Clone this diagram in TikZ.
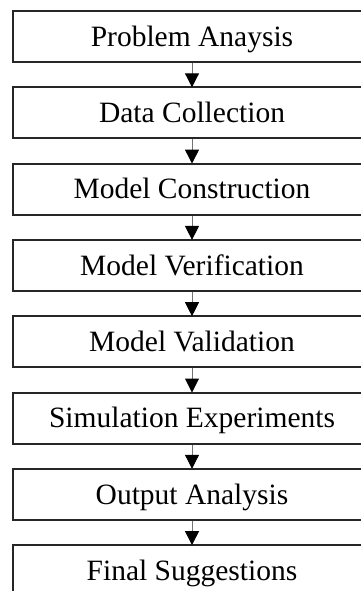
\documentclass[tikz,border=0pt]{standalone}
\usepackage{fontspec}
\setmainfont{Liberation Serif}
\usetikzlibrary{arrows.meta}
\begin{document}
\begin{tikzpicture}[x=1pt,y=-1pt,
  stagebox/.style={draw=black!85, line width=2pt, minimum width=358pt, minimum height=51pt,
    inner sep=0pt, text height=19.5pt, text depth=0pt,
    font=\fontsize{29.5}{34}\selectfont},
  flow/.style={draw=black!55, line width=1pt,
    -{Triangle[width=14pt,length=14pt,color=black]}, shorten >=-1pt}
]
\useasboundingbox (0,0) rectangle (361,591);
\node[stagebox] (s1) at (192,36.5) {Problem Anaysis};
\node[stagebox] (s2) at (192,112.8) {Data Collection};
\node[stagebox] (s3) at (192,189.1) {Model Construction};
\node[stagebox] (s4) at (192,265.4) {Model Verification};
\node[stagebox] (s5) at (192,341.7) {Model Validation};
\node[stagebox] (s6) at (192,418.0) {Simulation Experiments};
\node[stagebox] (s7) at (192,494.3) {Output Analysis};
\node[stagebox] (s8) at (192,570.6) {Final Suggestions};
\foreach \a/\b in {s1/s2,s2/s3,s3/s4,s4/s5,s5/s6,s6/s7,s7/s8}
  \draw[flow] (\a.south) -- (\b.north);
\end{tikzpicture}
\end{document}
